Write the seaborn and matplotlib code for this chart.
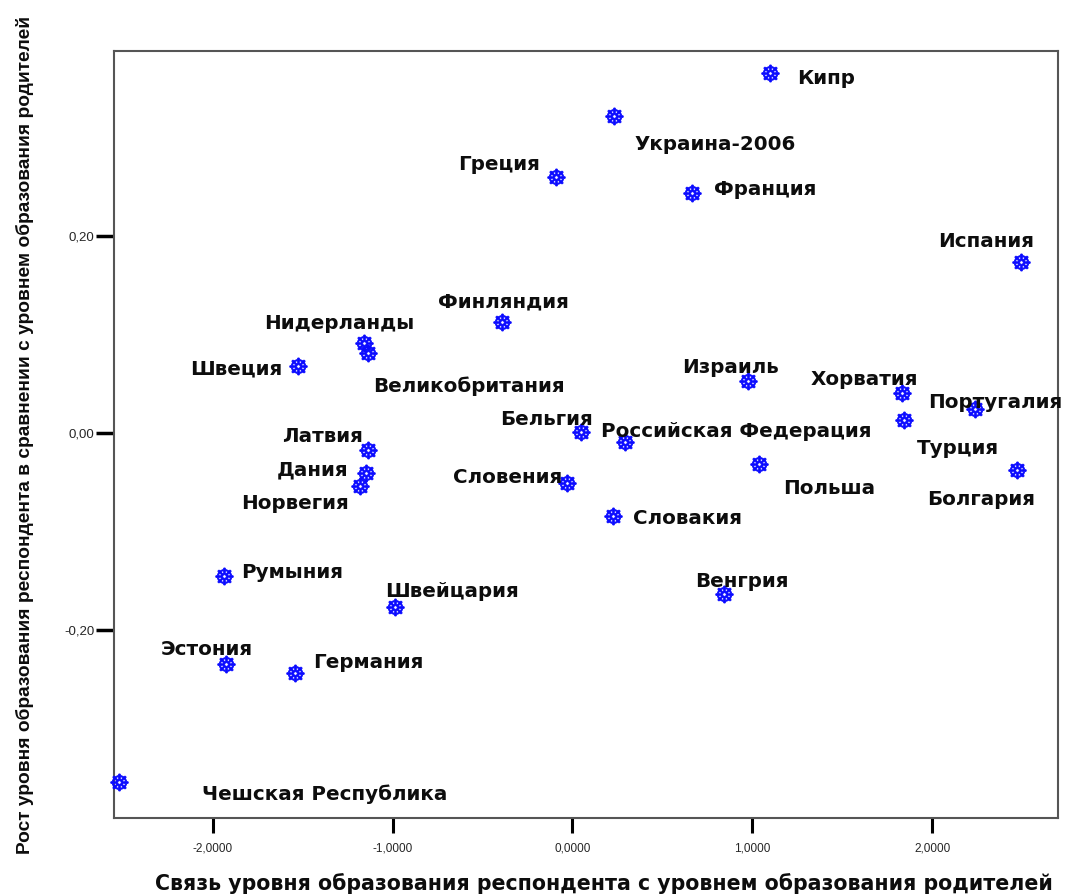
import pandas as pd
import matplotlib
matplotlib.use('Agg')
import matplotlib.pyplot as plt
import seaborn as sns

# data
countries = ['Кипр', 'Украина-2006', 'Греция', 'Франция', 'Испания', 'Финляндия',
             'Нидерланды', 'Великобритания', 'Швеция', 'Израиль', 'Хорватия',
             'Португалия', 'Турция', 'Бельгия', 'Российская Федерация', 'Латвия',
             'Дания', 'Норвегия', 'Польша', 'Болгария', 'Словения', 'Словакия',
             'Румыния', 'Швейцария', 'Венгрия', 'Эстония', 'Германия',
             'Чешская Республика']
link_x = [1.10, 0.233, -0.094, 0.667, 2.494, -0.394,
          -1.161, -1.139, -1.528, 0.978, 1.833,
          2.239, 1.844, 0.050, 0.294, -1.139,
          -1.150, -1.183, 1.039, 2.472, -0.028, 0.228,
          -1.939, -0.989, 0.844, -1.928, -1.544,
          -2.522]
growth_y = [0.366, 0.322, 0.260, 0.244, 0.174, 0.113,
            0.091, 0.081, 0.068, 0.053, 0.041,
            0.024, 0.013, 0.001, -0.009, -0.017,
            -0.041, -0.054, -0.031, -0.038, -0.051, -0.084,
            -0.145, -0.177, -0.164, -0.235, -0.244,
            -0.354]
x_ticks = [-2.0, -1.0, 0.0, 1.0, 2.0]
x_tick_labels = ['-2,0000', '-1,0000', '0,0000', '1,0000', '2,0000']
y_ticks = [-0.2, 0.0, 0.2]
y_tick_labels = ['-0,20', '0,00', '0,20']

# label placement (pixel offsets from the point, horizontal alignment)
label_pos = {
    'Кипр': (27, -6, 'left'), 'Украина-2006': (20, -29, 'left'),
    'Греция': (-16, 13, 'right'), 'Франция': (22, 3, 'left'),
    'Испания': (13, 20, 'right'), 'Финляндия': (2, 20, 'center'),
    'Нидерланды': (51, 20, 'right'), 'Великобритания': (5, -33, 'left'),
    'Швеция': (-15, -3, 'right'), 'Израиль': (-18, 13, 'center'),
    'Хорватия': (-38, 13, 'center'), 'Португалия': (-47, 7, 'left'),
    'Турция': (13, -28, 'left'), 'Бельгия': (11, 13, 'right'),
    'Российская Федерация': (-24, 10, 'left'), 'Латвия': (-5, 13, 'right'),
    'Дания': (-17, 3, 'right'), 'Норвегия': (-11, -17, 'right'),
    'Польша': (24, -25, 'left'), 'Болгария': (-36, -29, 'center'),
    'Словения': (-5, 6, 'right'), 'Словакия': (20, -3, 'left'),
    'Румыния': (17, 3, 'left'), 'Швейцария': (-10, 16, 'left'),
    'Венгрия': (18, 13, 'center'), 'Эстония': (-19, 15, 'center'),
    'Германия': (18, 11, 'left'), 'Чешская Республика': (83, -13, 'left'),
}

df = pd.DataFrame({'country': countries, 'x': link_x, 'y': growth_y})

sns.set_style('white')
plt.rcParams['font.family'] = ['Liberation Sans', 'DejaVu Sans']

fig = plt.figure(figsize=(10.74, 8.96), dpi=100)
ax = fig.add_axes([0.1061, 0.0871, 0.8790, 0.8560])

sns.scatterplot(data=df, x='x', y='y', ax=ax, marker='$☸$', s=160,
                color='#0a0aff', edgecolor='#0a0aff', linewidth=0.6,
                zorder=3, clip_on=False)

for name, xv, yv in zip(countries, link_x, growth_y):
    dx, dy, ha = label_pos[name]
    ax.annotate(name, (xv, yv), xytext=(dx, dy), textcoords='offset pixels',
                ha=ha, va='center', fontsize=14.3, fontweight='bold',
                family='DejaVu Sans', color='#0d0d0d')

ax.set_xlim(-2.55, 2.70)
ax.set_ylim(-0.391, 0.388)
ax.set_xticks(x_ticks)
ax.set_xticklabels(x_tick_labels, fontsize=8.5)
ax.set_yticks(y_ticks)
ax.set_yticklabels(y_tick_labels, fontsize=9.5)
ax.tick_params(axis='x', bottom=True, direction='out', length=11, width=2.2,
               pad=7, color='black')
ax.tick_params(axis='y', left=True, direction='out', length=13, width=2.5,
               pad=1, color='black')

for side in ['left', 'right', 'top', 'bottom']:
    ax.spines[side].set_color('#555555')
    ax.spines[side].set_linewidth(1.5)

ax.set_xlabel('Связь уровня образования респондента с уровнем образования родителей',
              fontsize=14.8, fontweight='bold', family='DejaVu Sans', color='#0d0d0d')
ax.xaxis.set_label_coords(0.519, -0.072)
ax.set_ylabel('Рост уровня образования респондента в сравнении с уровнем образования родителей',
              fontsize=13.8, fontweight='bold', color='#0d0d0d')
ax.yaxis.set_label_coords(-0.085, 0.5)

fig.savefig('out.png', dpi=100)
